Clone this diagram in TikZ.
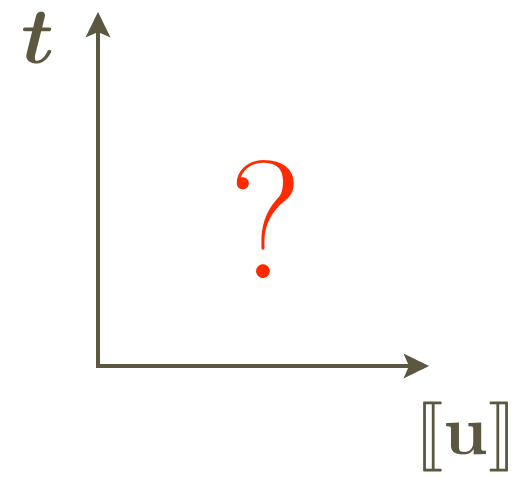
\documentclass[tikz,border=0pt]{standalone}
\usepackage{stmaryrd}
\usepackage{bm}
\usetikzlibrary{arrows.meta}
\definecolor{axisolive}{HTML}{5B5740}
\definecolor{qred}{HTML}{FF2A00}
\begin{document}
\begin{tikzpicture}[x=1pt, y=1pt, >={Stealth[length=25pt, width=24pt, inset=5pt]}]
        % --- SETTINGS ---
        \tikzset{
            axisline/.style={line width=4pt, axisolive, ->},
            axislabel/.style={text=axisolive, inner sep=1pt}
        }
        \useasboundingbox (0, 0) rectangle (522, 478);

        % --- AXES ---
        \coordinate (origin) at (98, 112);
        \coordinate (ttop) at (98, 466);
        \coordinate (uend) at (429, 112);
        \draw[axisline] (origin) -- (ttop);
        \draw[axisline] ([xshift=-2pt]origin) -- (uend);

        % --- LABELS ---
        \node[axislabel] (tlabel) at (38, 440) {\scalebox{8}{$\bm{t}$}};
        \node[axislabel] (ulabel) at (466, 41) {\scalebox{7}{$\llbracket\mathbf{u}\rrbracket$}};

        % Unknown
        \node[text=qred, inner sep=0pt] (unknown) at (266, 258) {\fontsize{168}{168}\selectfont ?};
\end{tikzpicture}
\end{document}
